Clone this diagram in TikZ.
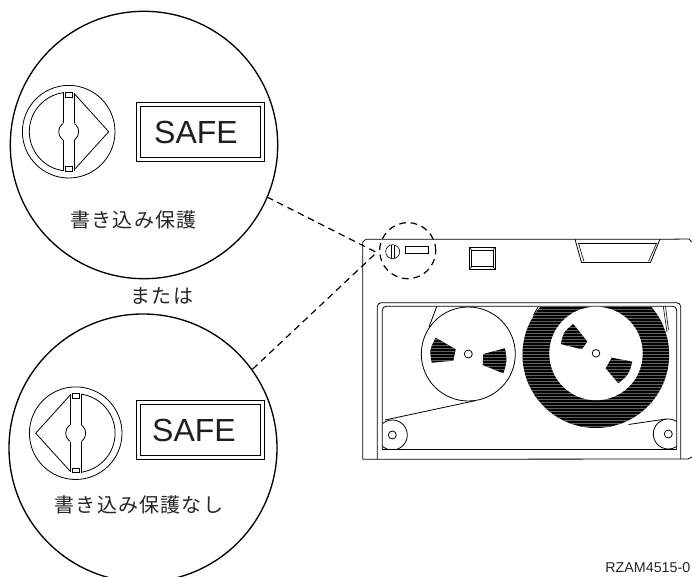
\documentclass[tikz,border=0pt]{standalone}
\usepackage{fontspec}
\setmainfont{Liberation Sans}
\newfontfamily\cjkfont[LetterSpace=6]{Noto Sans CJK JP}
\tikzset{
  thick line/.style={line width=1pt,draw=black},
  thin line/.style={line width=0.6pt,draw=black},
  fine line/.style={line width=0.45pt,draw=black},
  lead/.style={line width=0.9pt,draw=black,dash pattern=on 5pt off 3.6pt},
  safetext/.style={font=\fontsize{24pt}{25pt}\selectfont,text=black!88,inner sep=0pt},
  jptext/.style={font=\cjkfont\fontsize{15pt}{16pt}\selectfont,text=black!85,inner sep=0pt},
  partno/.style={font=\fontsize{10.7pt}{11pt}\selectfont,text=black!85,inner sep=0pt},
}
\newcommand{\dialmark}[3]{%
  \begin{scope}[shift={(#1,#2)},xscale=#3]
    \draw[thin line] (0,0) circle[radius=46.3];
    \begin{scope}
      \clip (-60,-60) rectangle (-5.6,60);
      \draw[thin line] (0,0) circle[radius=39.4];
      \draw[thin line] (0,0) circle[radius=10];
    \end{scope}
    \begin{scope}
      \clip (5.6,-60) rectangle (60,60);
      \draw[thin line] (0,0) circle[radius=10];
    \end{scope}
    \draw[thin line] (-5.6,-39.5) -- (-5.6,-8.3) (-5.6,8.3) -- (-5.6,39.5);
    \draw[thin line] (5.6,-39) -- (5.6,-8.3) (5.6,8.3) -- (5.6,39);
    \draw[fine line] (-3.3,-39.5) rectangle (3.3,-34.8);
    \draw[fine line] (-3.3,34.8) rectangle (3.3,39.5);
    \draw[thin line] (5.6,-38) -- (40,0) -- (5.6,38);
  \end{scope}}
\newcommand{\safebox}[3]{%
  \draw[thin line] (136,#1) rectangle (264.3,#1+59);
  \draw[thin line] (140,#1+4.3) rectangle (260.7,#1+55);
  \node[safetext] (#3) at (#2,#1+30) {SAFE};}
\newcommand{\stripes}{%
  \foreach \yy in {276,279,...,432}{\draw[black!62,line width=0.2pt] (420,\yy) -- (680,\yy);}}
\newcommand{\reelslot}[1]{%
  \begin{scope}\clip #1;\fill[black] (420,270) rectangle (680,440);\stripes\end{scope}}
\begin{document}
\begin{tikzpicture}[x=0.75pt,y=-0.75pt]
\useasboundingbox (0,0) rectangle (692,577);
% big circles
\draw[thick line] (144,145) circle[radius=133.7];
\draw[thick line] (143,448) circle[radius=134];
\dialmark{68.7}{131.7}{1}
\dialmark{75.7}{433.2}{-1}
\safebox{102.3}{196}{safeA}
\safebox{400}{194}{safeB}
\node[jptext] (protect) at (133.5,220) {書き込み保護};
\node[jptext] (noprotect) at (139,505) {書き込み保護なし};
\node[jptext] (ormark) at (162,296) {または};
\node[partno,anchor=east] (partlabel) at (690.5,568) {RZAM4515-0};
% cassette body
\draw[thin line] (362.7,459) -- (362.7,242) -- (366,239.3) -- (660,239.3)
   -- (689,239) -- (691.7,242);
\draw[thin line] (362.7,459.3) -- (688,459) -- (692,457);
% label window
\draw[thin line] (575,239.3) -- (581.5,262.5) -- (650.5,262.5) -- (660,239);
\draw[fine line] (578.5,243.4) -- (584,261.5) (648.5,261.5) -- (656.5,243.4);
\draw[fine line] (578,243.4) -- (657,243.4);
% write-protect dial & window
\draw[fine line] (392.7,251.7) circle[radius=7];
\draw[fine line] (391,245) -- (391,258.4) (394.4,245) -- (394.4,258.4);
\draw[fine line] (405.7,246.7) rectangle (428.7,253.3);
% square
\draw[thin line] (469,247.3) rectangle (495,269.3);
\draw[fine line] (471.7,250) rectangle (493,266.7);
\draw[fine line] (469,247.3) -- (471.7,250) (495,247.3) -- (493,250) (469,269.3) -- (471.7,266.7) (495,269.3) -- (493,266.7);
% dashed focus circle + leader lines
\node[draw,lead,circle,inner sep=0pt,minimum size=42pt] (focus) at (407.7,250.7) {};
\coordinate (leadA) at (267,197);
\coordinate (leadB) at (251.7,370);
\coordinate (leadEnd) at (376.7,252.5);
\draw[lead] (leadA) -- (leadEnd) -- (leadB);
% frame
\draw[thin line,rounded corners=3pt] (377.3,459) -- (377.3,302.7) -- (680.7,302.7) -- (680.7,459);
\draw[thin line,rounded corners=3pt] (382.3,449.3) -- (382.3,306.3) -- (676.7,306.3) -- (676.7,449.3);
\draw[thin line] (382.3,449.3) -- (676.7,449.3);
% tape pack
\begin{scope}
  \clip (380,306.3) rectangle (678,440);
  \fill[black] (595.8,354.7) circle[radius=73.3];
  \begin{scope}\clip (595.8,354.7) circle[radius=73.3];\stripes\end{scope}
\end{scope}
\fill[white] (596,353.5) circle[radius=46.7];
\draw[thin line] (596,353.3) circle[radius=3.8];
% take-up reel
\draw[thin line] (468.3,354) circle[radius=47];
\draw[thin line] (468.3,354) circle[radius=4];
\reelslot{(435.7,337.7) -- (455.7,349.3) -- (453.3,360.7) -- (431.7,362.7) .. controls (429.5,349.7) .. (435.7,337.7) -- cycle}
\reelslot{(483.3,354) -- (505,348.3) .. controls (507.1,361.3) .. (503.3,373.3) -- (482.7,365) -- cycle}
\reelslot{(573.3,324) -- (587.3,341.7) -- (581.7,349.3) -- (560.7,344) .. controls (563.7,331.8) .. (573.3,324) -- cycle}
\reelslot{(611.7,357.7) -- (632.3,361.7) .. controls (628.7,374.7) .. (618.3,383.3) -- (605.7,368.3) -- cycle}
% rollers
\begin{scope}
  \clip (382.3,400) rectangle (676.7,449.3);
  \draw[thin line] (392.3,435) circle[radius=15];
  \draw[thin line] (668.3,434) circle[radius=15];
\end{scope}
\draw[thin line] (392.3,435) circle[radius=4];
\draw[thin line] (668.3,434) circle[radius=4];
% tape paths
\draw[thin line] (436.7,306.5) -- (429,327);
\draw[thin line] (476,400.5) -- (385,420);
\draw[thin line] (538.3,306.5) -- (533.5,315);
\draw[fine line] (663.3,306.5) -- (667,332);
\draw[fine line] (665.5,306.5) -- (668.5,330);
\draw[thin line] (628.5,424.5) -- (666,419);
\end{tikzpicture}
\end{document}
